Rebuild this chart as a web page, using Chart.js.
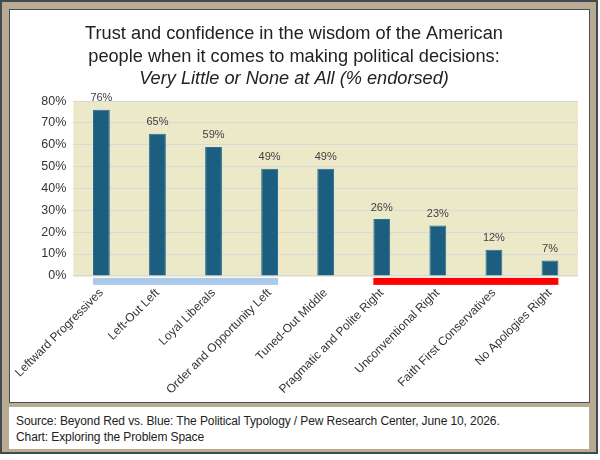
<!DOCTYPE html>
<html>
<head>
<meta charset="utf-8">
<script src="https://cdn.jsdelivr.net/npm/chart.js@4.4.1/dist/chart.umd.min.js"></script>
<style>
  html,body{margin:0;padding:0;background:#fff;width:600px;height:460px;overflow:hidden;}
  #frame{position:absolute;left:0;top:0;width:594px;height:450px;border:2px solid #3f4b50;background:#b9ab93;}
  #panel{position:absolute;left:9px;top:9px;width:579px;height:392px;background:#fff;border:1px solid #4a4f52;}
  #footer{position:absolute;left:9px;top:407px;width:580px;height:42px;background:#fff;
    font-family:"Liberation Sans",Arial,sans-serif;font-size:12px;letter-spacing:-0.1px;color:#222;line-height:16px;}
  #footer div{padding-left:7px;}
  canvas{display:block;}
</style>
</head>
<body>
<div id="frame"></div>
<div id="panel"><canvas id="c" width="579" height="392"></canvas></div>
<div id="footer">
  <div style="padding-top:6px">Source: Beyond Red vs. Blue: The Political Typology / Pew Research Center, June 10, 2026.</div>
  <div>Chart: Exploring the Problem Space</div>
</div>
<script>
/* ---------- Data ---------- */
const categories = ['Leftward Progressives','Left-Out Left','Loyal Liberals','Order and Opportunity Left',
  'Tuned-Out Middle','Pragmatic and Polite Right','Unconventional Right','Faith First Conservatives','No Apologies Right'];
const pctLittleOrNone = [76,65,59,49,49,26,23,12,7];
const yTicks = [0,10,20,30,40,50,60,70,80];
const titleLines = ['Trust and confidence in the wisdom of the American','people when it comes to making political decisions:'];
const subtitleText = 'Very Little or None at All (% endorsed)';
// grouping strips under the axis (first index, last index, colour)
const groupFrom = [0,5];
const groupTo   = [3,8];
const groupColor = ['#a8c9ea','#ff0000'];

/* ---------- Plugins ---------- */
const plotBg = {
  id:'plotBg',
  beforeDraw(chart){
    const {ctx,chartArea:a} = chart;
    ctx.save();
    ctx.fillStyle = '#ece9c9';
    ctx.fillRect(a.left,a.top,a.right-a.left,a.bottom-a.top+1);
    ctx.restore();
  }
};
const extras = {
  id:'extras',
  afterDatasetsDraw(chart){
    const {ctx,chartArea:a} = chart;
    const meta = chart.getDatasetMeta(0);
    ctx.save();
    // value labels
    ctx.font = '11px "Liberation Sans", Arial, sans-serif';
    ctx.fillStyle = '#404040';
    ctx.textAlign = 'center';
    ctx.textBaseline = 'bottom';
    meta.data.forEach((bar,i)=>{
      ctx.fillText(pctLittleOrNone[i]+'%', bar.x, bar.y-6);
    });
    // group strips
    groupFrom.forEach((f,g)=>{
      const b0 = meta.data[f], b1 = meta.data[groupTo[g]];
      ctx.fillStyle = groupColor[g];
      ctx.fillRect(b0.x-b0.width/2, a.bottom+2, (b1.x+b1.width/2)-(b0.x-b0.width/2), 7);
    });
    ctx.restore();
  }
};

/* ---------- Chart ---------- */
new Chart(document.getElementById('c'),{
  type:'bar',
  data:{
    labels:categories,
    datasets:[{
      data:pctLittleOrNone,
      backgroundColor:'#1b5e80',
      borderColor:'#2a6f92',
      borderWidth:1,
      barPercentage:0.3,
      categoryPercentage:1
    }]
  },
  options:{
    responsive:false,
    animation:false,
    layout:{padding:{left:0,right:11,top:0,bottom:-5}},
    plugins:{
      legend:{display:false},
      tooltip:{enabled:false},
      title:{display:true,text:titleLines,color:'#222',
        font:{family:'"Liberation Sans", Arial, sans-serif',size:18.2,weight:'normal',lineHeight:1.27},
        padding:{top:12,bottom:0}},
      subtitle:{display:true,text:subtitleText,color:'#222',
        font:{family:'"Liberation Sans", Arial, sans-serif',size:18.2,style:'italic',weight:'normal'},
        padding:{top:0,bottom:11}}
    },
    scales:{
      x:{
        grid:{display:false,drawTicks:false},
        border:{display:false},
        ticks:{color:'#333',font:{family:'"Liberation Sans", Arial, sans-serif',size:12},
          minRotation:45,maxRotation:45,padding:10,autoSkip:false},
        afterFit(axis){ axis.paddingLeft = Math.max(axis.paddingLeft-5,0); }
      },
      y:{
        min:0,max:80,
        afterBuildTicks(axis){axis.ticks = yTicks.map(v=>({value:v}));},
        grid:{color:'#d9d9d9',lineWidth:1,drawTicks:false},
        border:{display:false},
        ticks:{color:'#333',font:{family:'"Liberation Sans", Arial, sans-serif',size:12.5},
          padding:7,callback:v=>v+'%'}
      }
    }
  },
  plugins:[plotBg,extras]
});
</script>
</body>
</html>
